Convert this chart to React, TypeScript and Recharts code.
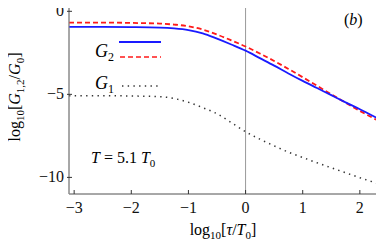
import { LineChart, Line, XAxis, YAxis, ReferenceLine, ReferenceArea } from 'recharts'

// log10[tau/T0]
const xs = [-3.09, -2.5, -2, -1.5, -1.25, -1, -0.75, -0.5, -0.25, 0, 0.25, 0.5, 0.75, 1, 1.25, 1.5, 1.75, 2, 2.3]
// G2 (blue, solid)
const g2Solid = [-0.94, -0.94, -0.95, -0.98, -1.03, -1.13, -1.33, -1.65, -2.0, -2.37, -2.82, -3.27, -3.74, -4.19, -4.62, -5.05, -5.48, -5.9, -6.43]
// G2 (red, dashed)
const g2Dashed = [-0.68, -0.68, -0.7, -0.74, -0.8, -0.9, -1.1, -1.4, -1.75, -2.12, -2.54, -2.99, -3.47, -3.97, -4.48, -5.0, -5.5, -6.0, -6.55]
// G1 (black, dotted)
const g1 = [-5.08, -5.08, -5.1, -5.14, -5.25, -5.48, -5.8, -6.17, -6.7, -7.25, -7.7, -8.1, -8.48, -8.8, -9.12, -9.42, -9.72, -10.02, -10.35]

const xTicks = [-3, -2, -1, 0, 1, 2]
const yTicks = [-10, -5, 0]

const data = xs.map((x, i) => ({ x, blue: g2Solid[i], red: g2Dashed[i], g1: g1[i] }))

const FONT = '"Liberation Serif", "Times New Roman", serif'
const AXIS = '#8a8a8a'

const fmt = (v: number) => (v < 0 ? '\u2212' + Math.abs(v) : String(v))

const XTick = ({ x, y, payload }: any) => (
  <g>
    <line x1={x} x2={x} y1={y} y2={y - 4} stroke="#333" />
    <text x={x} y={y + 19} textAnchor="middle" fontFamily={FONT} fontSize={16} fill="#111">
      {fmt(payload.value)}
    </text>
  </g>
)

const YTick = ({ x, y, payload }: any) => (
  <g>
    <line x1={x - 2} x2={x + 3} y1={y} y2={y} stroke="#333" />
    <text x={x - 5} y={y + 5} textAnchor="end" fontFamily={FONT} fontSize={16} fill="#111">
      {fmt(payload.value)}
    </text>
  </g>
)

export default function App() {
  return (
    <div style={{ position: 'relative', width: 384, height: 249, margin: -8, fontFamily: FONT, color: '#111' }}>
      <LineChart width={384} height={249} data={data} margin={{ top: 3, right: 7, bottom: 0, left: 0 }}>
        <ReferenceArea x1={-3.09} x2={2.3} y1={-11} y2={0.5} fill="none" stroke={AXIS} strokeWidth={1} ifOverflow="visible" />
        <ReferenceLine x={0} stroke="#999" strokeWidth={1} />
        <XAxis
          dataKey="x"
          type="number"
          domain={[-3.09, 2.3]}
          ticks={xTicks}
          allowDataOverflow
          stroke={AXIS}
          tickSize={0}
          tickMargin={0}
          tick={<XTick />}
          height={55}
        />
        <YAxis
          type="number"
          domain={[-11, 0.5]}
          ticks={yTicks}
          allowDataOverflow
          stroke={AXIS}
          tickSize={0}
          tickMargin={0}
          tick={<YTick />}
          width={69}
        />
        <Line dataKey="g1" type="monotone" stroke="#333" strokeWidth={1.5} strokeDasharray="1.4 4.3" dot={false} isAnimationActive={false} />
        <Line dataKey="red" type="monotone" stroke="#ff1a1a" strokeWidth={1.8} strokeDasharray="5 3" dot={false} isAnimationActive={false} />
        <Line dataKey="blue" type="monotone" stroke="#1a1aff" strokeWidth={1.8} dot={false} isAnimationActive={false} />
      </LineChart>

      {/* legend and annotations */}
      <svg width={384} height={249} style={{ position: 'absolute', left: 0, top: 0, pointerEvents: 'none' }}>
        <line x1={119} x2={161} y1={42} y2={42} stroke="#1a1aff" strokeWidth={1.8} />
        <line x1={120} x2={161} y1={57} y2={57} stroke="#ff1a1a" strokeWidth={1.4} strokeDasharray="5 3" />
        <line x1={122} x2={161} y1={86} y2={86} stroke="#333" strokeWidth={1.5} strokeDasharray="1.4 4.3" />
        <text x={95} y={57} fontFamily={FONT} fontSize={18} fontStyle="italic">G<tspan fontSize={12} dy={4} fontStyle="normal">2</tspan></text>
        <text x={95} y={89} fontFamily={FONT} fontSize={18} fontStyle="italic">G<tspan fontSize={12} dy={4} fontStyle="normal">1</tspan></text>
        <text x={91} y={163} fontFamily={FONT} fontSize={16}>
          <tspan fontStyle="italic">T</tspan> = 5.1 <tspan fontStyle="italic">T</tspan><tspan fontSize={11} dy={4}>0</tspan>
        </text>
        <text x={344} y={25} fontFamily={FONT} fontSize={16}>(<tspan fontStyle="italic">b</tspan>)</text>
        <text x={223} y={235} textAnchor="middle" fontFamily={FONT} fontSize={16}>
          log<tspan fontSize={11} dy={4}>10</tspan><tspan dy={-4}>[</tspan><tspan fontStyle="italic">τ</tspan>/<tspan fontStyle="italic">T</tspan><tspan fontSize={11} dy={4}>0</tspan><tspan dy={-4}>]</tspan>
        </text>
        <text x={0} y={0} transform="translate(20,97) rotate(-90)" textAnchor="middle" fontFamily={FONT} fontSize={16}>
          log<tspan fontSize={11} dy={4}>10</tspan><tspan dy={-4}>[</tspan><tspan fontStyle="italic">G</tspan><tspan fontSize={11} dy={4}>1,2</tspan><tspan dy={-4}>/</tspan><tspan fontStyle="italic">G</tspan><tspan fontSize={11} dy={4}>0</tspan><tspan dy={-4}>]</tspan>
        </text>
      </svg>
    </div>
  )
}
